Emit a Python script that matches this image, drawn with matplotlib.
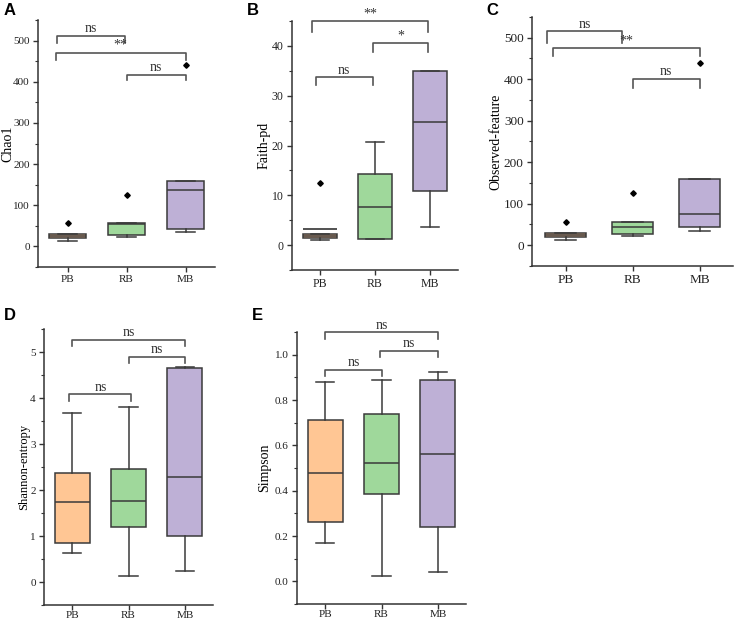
import matplotlib
matplotlib.use("Agg")
import matplotlib.pyplot as plt
from matplotlib.ticker import MultipleLocator

groups = ["PB", "RB", "MB"]
box_colors = ["#FFC694", "#9FD89B", "#BEB0D6"]

# per box: whislo, q1, med, q3, whishi
chao1_stats = [[13, 20, 25, 31, 31], [23, 27, 55, 56, 56], [36, 43, 138, 159, 159]]
chao1_fliers = [[57], [125], [440]]
faith_stats = [[1.05, 1.4, 1.8, 2.3, 2.3], [1.3, 1.3, 7.6, 14.3, 20.8], [3.6, 10.8, 24.7, 35.0, 35.0]]
faith_fliers = [[12.5], [], []]
faith_means = [3.3, None, None]
observed_stats = [[12, 20, 25, 30, 30], [23, 27, 45, 55, 55], [35, 43, 76, 159, 159]]
observed_fliers = [[57], [125], [440]]
shannon_stats = [[0.64, 0.84, 1.74, 2.38, 3.67], [0.14, 1.2, 1.77, 2.46, 3.81], [0.23, 1.0, 2.29, 4.66, 4.68]]
simpson_stats = [[0.17, 0.26, 0.48, 0.71, 0.88], [0.025, 0.385, 0.52, 0.74, 0.89], [0.04, 0.24, 0.56, 0.89, 0.925]]

# brackets: x1, x2, top, leg bottom, label
chao1_sig = [(0.83, 1.97, 512, 495, "ns"), (0.8, 3.0, 471, 454, "**"), (2.0, 3.0, 417, 405, "ns")]
faith_sig = [(0.87, 2.95, 45, 42.8, "**"), (1.96, 2.96, 40.5, 38.8, "*"), (0.93, 1.96, 33.7, 32.1, "ns")]
observed_sig = [(0.73, 1.85, 516, 488, "ns"), (0.82, 3.0, 476, 456, "**"), (2.0, 3.0, 401, 380, "ns")]
shannon_sig = [(1, 3, 5.26, 5.13, "ns"), (2, 3, 4.9, 4.77, "ns"), (0.95, 2.05, 4.08, 3.93, "ns")]
simpson_sig = [(1, 3, 1.098, 1.069, "ns"), (1.98, 3, 1.017, 0.988, "ns"), (1, 2, 0.934, 0.908, "ns")]

W, H = 734, 622
fig = plt.figure(figsize=(W / 100, H / 100), dpi=100)
serif = "Liberation Serif"
edge = "#3a3a3a"


def make_ax(l, r, t, b):
    return fig.add_axes([l / W, 1 - b / H, (r - l) / W, (b - t) / H])


def draw_panel(ax, box, stats, fliers, means, sig, ylabel, ylim, major, minor,
               ylfs, ylx, tfs, xpad=2):
    l, r, t, b = box
    for i, s in enumerate(stats):
        d = dict(whislo=s[0], q1=s[1], med=s[2], q3=s[3], whishi=s[4],
                 fliers=fliers[i] if fliers else [])
        show_mean = means is not None and means[i] is not None
        if show_mean:
            d["mean"] = means[i]
        ax.bxp([d], positions=[i + 1], widths=0.62, patch_artist=True,
               showmeans=show_mean, meanline=True, capwidths=[0.32],
               boxprops=dict(facecolor=box_colors[i], edgecolor=edge, linewidth=1.1),
               medianprops=dict(color=edge, linewidth=1.1),
               meanprops=dict(color="#222222", linestyle="-", linewidth=1.1),
               whiskerprops=dict(color=edge, linewidth=1.1),
               capprops=dict(color=edge, linewidth=1.1),
               flierprops=dict(marker="D", markersize=2.8, markerfacecolor="black",
                               markeredgecolor="black"))
    rng = ylim[1] - ylim[0]
    for x1, x2, top, leg, lab in sig:
        ax.plot([x1, x1, x2, x2], [leg, top, top, leg], color="#555555", lw=1.2,
                clip_on=False)
        ax.text((x1 + x2) / 2, top + rng * 0.002, lab, ha="center", va="bottom",
                fontsize=10, family=serif, color="#333333", clip_on=False)
    ax.set_xlim(0.5, 3.5)
    ax.set_ylim(*ylim)
    ax.set_xticks([1, 2, 3])
    ax.set_xticklabels(groups)
    ax.yaxis.set_major_locator(MultipleLocator(major))
    ax.yaxis.set_minor_locator(MultipleLocator(minor))
    ax.set_ylabel(ylabel, family=serif, fontsize=ylfs)
    # label x given as its right edge (rotated text anchored at bottom)
    ax.yaxis.set_label_coords((ylx - l) / (r - l), 0.5)
    for sp in ["top", "right"]:
        ax.spines[sp].set_visible(False)
    for sp in ["left", "bottom"]:
        ax.spines[sp].set_color("#333333")
        ax.spines[sp].set_linewidth(1.1)
    ax.tick_params(axis="both", which="major", direction="out", length=3.5,
                   width=1, colors="#333333", labelsize=tfs, pad=2.5)
    ax.tick_params(axis="x", which="major", pad=xpad)
    ax.tick_params(axis="y", which="minor", direction="out", length=2, width=0.8,
                   colors="#333333")
    for lab in ax.get_xticklabels() + ax.get_yticklabels():
        lab.set_family(serif)
        lab.set_color("#222222")


boxA = (38, 215, 20, 267)
draw_panel(make_ax(*boxA), boxA, chao1_stats, chao1_fliers, None, chao1_sig,
           "Chao1", (-50, 550), 100, 50, 10, 14, 8)
boxB = (292, 458, 21, 270)
draw_panel(make_ax(*boxB), boxB, faith_stats, faith_fliers, faith_means, faith_sig,
           "Faith-pd", (-5, 45), 10, 5, 10, 271, 8.5)
boxC = (532, 733, 17, 266)
draw_panel(make_ax(*boxC), boxC, observed_stats, observed_fliers, None, observed_sig,
           "Observed-feature", (-50, 550), 100, 50, 10, 502, 9.5)
boxD = (44, 213, 329, 605)
draw_panel(make_ax(*boxD), boxD, shannon_stats, None, None, shannon_sig,
           "Shannon-entropy", (-0.5, 5.5), 1, 0.5, 9, 30, 8, xpad=1)
boxE = (297, 466, 332, 604)
draw_panel(make_ax(*boxE), boxE, simpson_stats, None, None, simpson_sig,
           "Simpson", (-0.1, 1.1), 0.2, 0.1, 10, 271, 8, xpad=1)

for letter, x, y in [("A", 4, 3), ("B", 247, 3), ("C", 486, 3), ("D", 4, 308), ("E", 252, 308)]:
    fig.text(x / W, 1 - y / H, letter, ha="left", va="top", fontsize=12,
             fontweight="bold", family="Liberation Sans")

fig.savefig("out.png", dpi=100)
